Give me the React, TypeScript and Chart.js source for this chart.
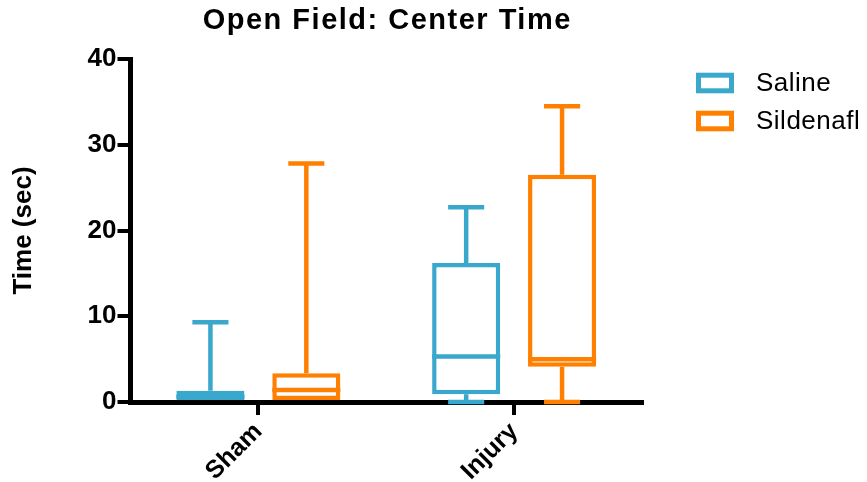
import React, { useEffect, useRef } from 'react';
import { Chart, registerables } from 'chart.js';

Chart.register(...registerables);

const TITLE = 'Open Field: Center Time';
const Y_TITLE = 'Time (sec)';
const categories = ['Sham', 'Injury'];
const seriesNames = ['Saline', 'Sildenafl'];
const seriesColors = ['#3AA7CC', '#FF8000'];

const salineMin = [0, 0];
const salineQ1 = [0, 0.9];
const salineMedian = [0.6, 5.3];
const salineQ3 = [1.3, 16.2];
const salineMax = [9.3, 22.7];

const sildMin = [0, 0];
const sildQ1 = [0, 4.1];
const sildMedian = [1.4, 5.0];
const sildQ3 = [3.35, 26.5];
const sildMax = [27.8, 34.5];

const yTicks = [0, 10, 20, 30, 40];

const FONT = 'Arial, "Liberation Sans", sans-serif';

const boxStats = [
  { min: salineMin, q1: salineQ1, median: salineMedian, q3: salineQ3, max: salineMax },
  { min: sildMin, q1: sildQ1, median: sildMedian, q3: sildQ3, max: sildMax },
];

const whiskerPlugin = {
  id: 'whiskers',
  afterDatasetsDraw(chart: any) {
    const ctx = chart.ctx;
    const y = chart.scales.y;
    chart.data.datasets.forEach((ds: any, di: number) => {
      const meta = chart.getDatasetMeta(di);
      const st = boxStats[di];
      meta.data.forEach((el: any, i: number) => {
        const { x, width } = el.getProps(['x', 'width'], true);
        const yMin = y.getPixelForValue(st.min[i]);
        const yQ1 = y.getPixelForValue(st.q1[i]);
        const yMed = y.getPixelForValue(st.median[i]);
        const yQ3 = y.getPixelForValue(st.q3[i]);
        const yMax = y.getPixelForValue(st.max[i]);
        const capHalf = width * 0.265;
        ctx.save();
        ctx.strokeStyle = ds.borderColor;
        ctx.lineWidth = 4.5;
        ctx.lineCap = 'butt';
        ctx.beginPath();
        if (st.max[i] > st.q3[i]) {
          ctx.moveTo(x, yQ3);
          ctx.lineTo(x, yMax);
          ctx.moveTo(x - capHalf, yMax);
          ctx.lineTo(x + capHalf, yMax);
        }
        if (st.min[i] < st.q1[i]) {
          ctx.moveTo(x, yQ1);
          ctx.lineTo(x, yMin);
          ctx.moveTo(x - capHalf, yMin);
          ctx.lineTo(x + capHalf, yMin);
        }
        ctx.moveTo(x - width / 2, yMed);
        ctx.lineTo(x + width / 2, yMed);
        ctx.stroke();
        ctx.restore();
      });
    });
  },
};

const titleLegendPlugin = {
  id: 'titleLegend',
  afterDraw(chart: any) {
    const ctx = chart.ctx;
    const area = chart.chartArea;
    ctx.save();
    ctx.fillStyle = '#000';
    ctx.font = `bold 29px ${FONT}`;
    ctx.textAlign = 'center';
    ctx.textBaseline = 'middle';
    (ctx as any).letterSpacing = '1.5px';
    ctx.fillText(TITLE, (area.left + area.right) / 2 + 1, 21);
    (ctx as any).letterSpacing = '0px';
    chart.data.datasets.forEach((ds: any, di: number) => {
      const bx = area.right + 56.5;
      const by = area.top + 16.2 + di * 38;
      ctx.strokeStyle = ds.borderColor;
      ctx.lineWidth = 5;
      ctx.fillStyle = '#fff';
      ctx.fillRect(bx, by, 33, 15.6);
      ctx.strokeRect(bx, by, 33, 15.6);
      ctx.fillStyle = '#000';
      ctx.font = `26px ${FONT}`;
      ctx.textAlign = 'left';
      ctx.textBaseline = 'middle';
      (ctx as any).letterSpacing = '0.5px';
      ctx.fillText(ds.label, area.right + 114, by + 8.5);
      (ctx as any).letterSpacing = '0px';
    });
    ctx.restore();
  },
};

export default function App() {
  const canvasRef = useRef<HTMLCanvasElement | null>(null);

  useEffect(() => {
    const canvas = canvasRef.current;
    if (!canvas) return;
    const datasets = boxStats.map((st, di) => ({
      label: seriesNames[di],
      data: categories.map((_, i) => [st.q1[i], st.q3[i]]),
      backgroundColor: '#ffffff',
      borderColor: seriesColors[di],
      borderWidth: 4.5,
      borderSkipped: false,
      categoryPercentage: 0.75,
      barPercentage: 0.71,
    }));

    const chart = new Chart(canvas, {
      type: 'bar',
      data: { labels: categories, datasets: datasets as any },
      options: {
        responsive: false,
        animation: false,
        layout: { padding: { top: 59, right: 225, left: 0, bottom: 0 } },
        plugins: {
          legend: { display: false },
          title: { display: false },
          tooltip: { enabled: false },
        },
        scales: {
          x: {
            grid: {
              display: true,
              drawOnChartArea: false,
              drawTicks: true,
              offset: false,
              tickLength: 13,
              color: '#000',
              lineWidth: 4,
            },
            border: { display: true, color: '#000', width: 5 },
            ticks: {
              color: '#000',
              font: { family: FONT, size: 25, weight: 'bold' },
              minRotation: 45,
              maxRotation: 45,
              padding: 2,
            },
            afterFit(scale: any) {
              scale.height = 80;
            },
          },
          y: {
            min: 0,
            max: 40,
            afterBuildTicks(scale: any) {
              scale.ticks = yTicks.map((v) => ({ value: v }));
            },
            grid: {
              display: true,
              drawOnChartArea: false,
              drawTicks: true,
              tickLength: 13,
              color: '#000',
              lineWidth: 4,
            },
            border: { display: true, color: '#000', width: 5 },
            ticks: {
              color: '#000',
              font: { family: FONT, size: 26, weight: 'bold' },
              padding: 1,
            },
            title: {
              display: true,
              text: Y_TITLE,
              color: '#000',
              font: { family: FONT, size: 26, weight: 'bold' },
              padding: { top: 8, bottom: 0 },
            },
            afterFit(scale: any) {
              scale.width = 130.5;
            },
          },
        },
      },
      plugins: [whiskerPlugin, titleLegendPlugin],
    });
    return () => chart.destroy();
  }, []);

  return (
    <div style={{ position: 'absolute', left: 0, top: 0, width: 867, height: 482, background: '#fff' }}>
      <canvas ref={canvasRef} width={867} height={482} style={{ display: 'block' }} />
    </div>
  );
}
